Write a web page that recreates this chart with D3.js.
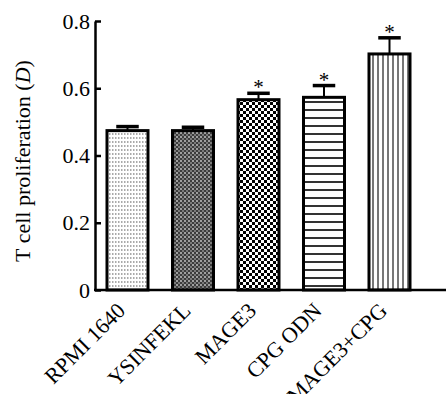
<!DOCTYPE html>
<html>
<head>
<meta charset="utf-8">
<script src="https://cdn.jsdelivr.net/npm/d3@7"></script>
<style>
  body { margin: 0; background: #fff; }
  svg { display: block; font-family: "Liberation Serif", "Times New Roman", serif; }
</style>
</head>
<body>
<script>
// data
var categories = ["RPMI 1640", "YSINFEKL", "MAGE3", "CPG ODN", "MAGE3+CPG"];
var means = [0.474, 0.474, 0.566, 0.573, 0.702];
var errors = [0.012, 0.010, 0.019, 0.035, 0.048];
var significant = [false, false, true, true, true];
var yTicks = [0, 0.2, 0.4, 0.6, 0.8];
var patternIds = ["dots", "darkcheck", "check", "hlines", "vlines"];

var width = 448, height = 394;
var fontSize = 22;

var svg = d3.select("body").append("svg")
    .attr("width", width)
    .attr("height", height);

// fill patterns
var defs = svg.append("defs");

var p = defs.append("pattern").attr("id", "dots")
    .attr("patternUnits", "userSpaceOnUse").attr("width", 3).attr("height", 4);
p.append("rect").attr("width", 3).attr("height", 4).attr("fill", "#fff");
p.append("rect").attr("x", 1).attr("y", 1).attr("width", 1.5).attr("height", 2).attr("fill", "#aaa");

p = defs.append("pattern").attr("id", "darkcheck")
    .attr("patternUnits", "userSpaceOnUse").attr("width", 4).attr("height", 4);
p.append("rect").attr("width", 4).attr("height", 4).attr("fill", "#3c3c3c");
p.append("rect").attr("width", 2).attr("height", 2).attr("fill", "#a0a0a0");
p.append("rect").attr("x", 2).attr("y", 2).attr("width", 2).attr("height", 2).attr("fill", "#7a7a7a");

p = defs.append("pattern").attr("id", "check")
    .attr("patternUnits", "userSpaceOnUse").attr("width", 6).attr("height", 6);
p.append("rect").attr("width", 6).attr("height", 6).attr("fill", "#fff");
p.append("rect").attr("width", 3).attr("height", 3).attr("fill", "#000");
p.append("rect").attr("x", 3).attr("y", 3).attr("width", 3).attr("height", 3).attr("fill", "#000");

p = defs.append("pattern").attr("id", "hlines")
    .attr("patternUnits", "userSpaceOnUse").attr("width", 8).attr("height", 8);
p.append("rect").attr("width", 8).attr("height", 8).attr("fill", "#fff");
p.append("rect").attr("y", 5).attr("width", 8).attr("height", 2).attr("fill", "#333");

p = defs.append("pattern").attr("id", "vlines")
    .attr("patternUnits", "userSpaceOnUse").attr("width", 5).attr("height", 5);
p.append("rect").attr("width", 5).attr("height", 5).attr("fill", "#fff");
p.append("rect").attr("x", 2).attr("width", 2).attr("height", 5).attr("fill", "#777");

// scales
var x = d3.scaleBand()
    .domain(categories)
    .range([94.75, 422.25])
    .paddingInner(0.374)
    .paddingOuter(0.187);

var y = d3.scaleLinear()
    .domain([0, 0.8])
    .range([290, 21]);

// bars
svg.selectAll("rect.bar")
    .data(categories)
  .enter().append("rect")
    .attr("class", "bar")
    .attr("x", function(d) { return x(d); })
    .attr("y", function(d, i) { return y(means[i]); })
    .attr("width", x.bandwidth())
    .attr("height", function(d, i) { return y(0) - y(means[i]); })
    .attr("fill", function(d, i) { return "url(#" + patternIds[i] + ")"; })
    .attr("stroke", "#000")
    .attr("stroke-width", 3);

// error bars
var capHalf = x.bandwidth() / 4 + 1;
svg.selectAll("line.err")
    .data(categories)
  .enter().append("line")
    .attr("class", "err")
    .attr("x1", function(d) { return x(d) + x.bandwidth() / 2; })
    .attr("x2", function(d) { return x(d) + x.bandwidth() / 2; })
    .attr("y1", function(d, i) { return y(means[i]); })
    .attr("y2", function(d, i) { return y(means[i] + errors[i]); })
    .attr("stroke", "#000")
    .attr("stroke-width", 2);

svg.selectAll("line.cap")
    .data(categories)
  .enter().append("line")
    .attr("class", "cap")
    .attr("x1", function(d) { return x(d) + x.bandwidth() / 2 - capHalf; })
    .attr("x2", function(d) { return x(d) + x.bandwidth() / 2 + capHalf; })
    .attr("y1", function(d, i) { return y(means[i] + errors[i]); })
    .attr("y2", function(d, i) { return y(means[i] + errors[i]); })
    .attr("stroke", "#000")
    .attr("stroke-width", 3.5);

// significance stars
svg.selectAll("text.star")
    .data(categories.filter(function(d, i) { return significant[i]; }))
  .enter().append("text")
    .attr("class", "star")
    .attr("x", function(d) { return x(d) + x.bandwidth() / 2; })
    .attr("y", function(d) {
      var i = categories.indexOf(d);
      return y(means[i] + errors[i]) + 1;
    })
    .attr("text-anchor", "middle")
    .attr("font-size", 21)
    .text("*");

// y axis
var yAxis = svg.append("g")
    .attr("transform", "translate(95,0)")
    .call(d3.axisLeft(y)
      .tickValues(yTicks)
      .tickFormat(function(d) { return d === 0 ? "0" : d3.format(".1f")(d); })
      .tickSizeInner(-6)
      .tickSizeOuter(0)
      .tickPadding(5));
yAxis.select(".domain").attr("stroke-width", 2.5);
yAxis.selectAll(".tick line").attr("stroke-width", 2.5);
yAxis.selectAll(".tick text")
    .attr("font-family", "Liberation Serif")
    .attr("font-size", fontSize)
    .attr("fill", "#000");

// x axis baseline
svg.append("line")
    .attr("x1", 94)
    .attr("x2", 446)
    .attr("y1", y(0))
    .attr("y2", y(0))
    .attr("stroke", "#000")
    .attr("stroke-width", 2.5);

// x axis labels, rotated
var xAxis = svg.append("g")
    .attr("transform", "translate(0," + y(0) + ")")
    .call(d3.axisBottom(x).tickSize(0));
xAxis.select(".domain").remove();
xAxis.selectAll(".tick text")
    .attr("font-family", "Liberation Serif")
    .attr("font-size", fontSize)
    .attr("fill", "#000")
    .attr("text-anchor", "end")
    .attr("y", 0)
    .attr("dy", 0)
    .attr("transform", "translate(-1,22) rotate(-45)");

// y axis title
var title = svg.append("text")
    .attr("transform", "translate(30,161) rotate(-90)")
    .attr("text-anchor", "middle")
    .attr("font-size", fontSize);
title.append("tspan").text("T cell proliferation (");
title.append("tspan").attr("font-style", "italic").text("D");
title.append("tspan").text(")");
</script>
</body>
</html>
